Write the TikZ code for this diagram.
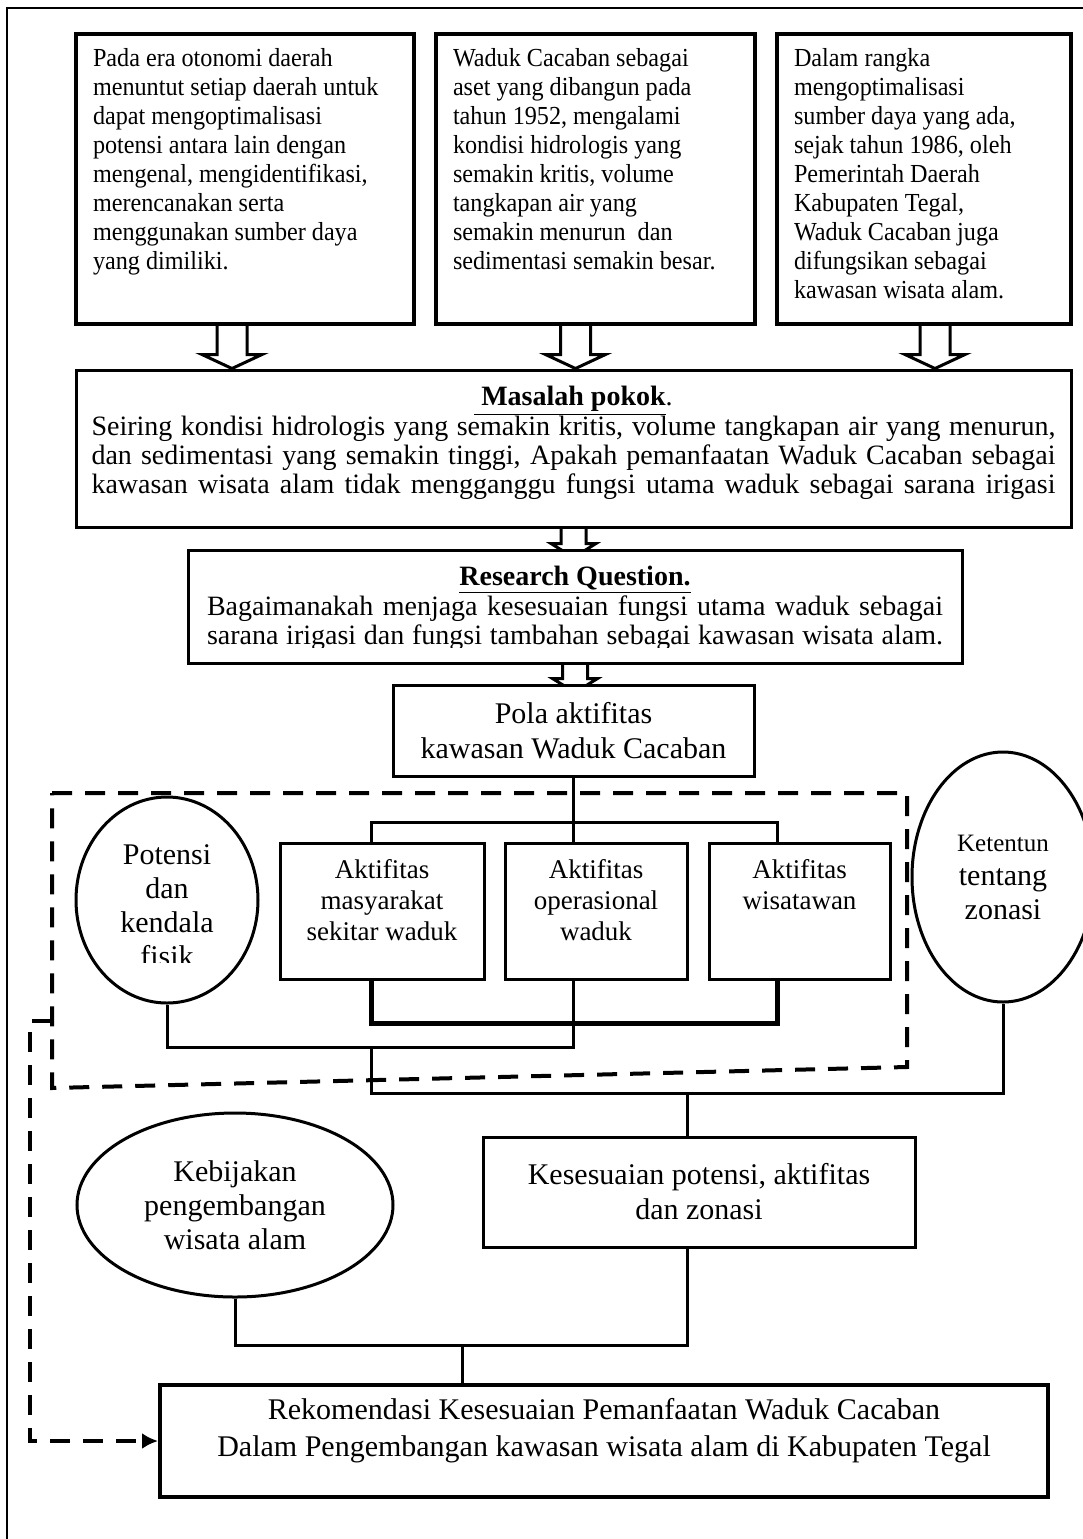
\documentclass[tikz,border=0pt]{standalone}
\usepackage{fontspec}
\setmainfont{Liberation Serif}
\newfontfamily\sempit[FakeStretch=0.93]{Liberation Serif}
\usetikzlibrary{shapes.geometric,arrows.meta,calc}

\pgfdeclarelayer{bg}
\pgfsetlayers{bg,main}

\tikzset{
  box/.style={draw, line width=1.5pt, fill=white, inner sep=0pt},
  topbox/.style={box, line width=2pt, minimum height=145pt},
  aktif/.style={box, minimum height=68pt},
  oval/.style={draw, ellipse, line width=1.5pt, fill=white, inner sep=0pt, align=center, font=\fontsize{15}{17}\selectfont},
  line/.style={line width=1.5pt},
  fat/.style={line width=1.5pt, line join=miter},
  dashline/.style={line width=2pt, dash pattern=on 10pt off 6.5pt},
}

\newcommand{\fatarrow}[4]{%
  \draw[fat] let \p1=(#1), \p2=(#2) in
    (\x1-#3,\y1) -- (\x1-#3,\y2+7pt) -- (\x1-#4,\y2+7pt) -- (\x1,\y2)
    -- (\x1+#4,\y2+7pt) -- (\x1+#3,\y2+7pt) -- (\x1+#3,\y1);}
\newcommand{\kecil}{\sempit\fontsize{13}{14.5}\selectfont}
\newcommand{\sedang}{\fontsize{14}{14.5}\selectfont}
\newcommand{\aktiffont}{\fontsize{13.5}{15.5}\selectfont}

\begin{document}
\begin{tikzpicture}[x=0.5pt,y=-0.5pt]
  \useasboundingbox (0,0) rectangle (1083,1539);

  % top boxes
  \node[topbox, minimum width=169pt] (otonomi) at (245,179)
    {\parbox[c][145pt][t]{152pt}{\kecil\raggedright\vspace*{7pt}%
      Pada era otonomi daerah\\ menuntut setiap daerah untuk\\ dapat mengoptimalisasi\\
      potensi antara lain dengan\\ mengenal, mengidentifikasi,\\ merencanakan serta\\
      menggunakan sumber daya\\ yang dimiliki.}};
  \node[topbox, minimum width=159.5pt] (cacaban) at (595.5,179)
    {\parbox[c][145pt][t]{142.5pt}{\kecil\raggedright\vspace*{7pt}%
      Waduk Cacaban sebagai\\ aset yang dibangun pada\\ tahun 1952, mengalami\\
      kondisi hidrologis yang\\ semakin kritis, volume\\ tangkapan air yang\\
      semakin menurun~ dan\\ sedimentasi semakin besar.}};
  \node[topbox, minimum width=147pt] (rangka) at (924,179)
    {\parbox[c][145pt][t]{130pt}{\kecil\raggedright\vspace*{7pt}%
      Dalam rangka\\ mengoptimalisasi\\ sumber daya yang ada,\\ sejak tahun 1986, oleh\\
      Pemerintah Daerah\\ Kabupaten Tegal,\\ Waduk Cacaban juga\\ difungsikan sebagai\\
      kawasan wisata alam.}};

  % masalah pokok
  \node[box, minimum width=497.5pt, minimum height=78.5pt] (masalah) at (573.5,448.5)
    {\parbox[c][78.5pt][t]{482pt}{\sedang\vspace*{8pt}%
      \centerline{\underline{\textbf{\ Masalah pokok}}.}\vspace{-0.5pt}%
      \makebox[\linewidth][s]{Seiring kondisi hidrologis yang semakin kritis, volume tangkapan air yang menurun,}\par
      \makebox[\linewidth][s]{dan sedimentasi yang semakin tinggi, Apakah pemanfaatan Waduk Cacaban sebagai}\par
      \makebox[\linewidth][s]{kawasan wisata alam tidak mengganggu fungsi utama waduk sebagai sarana irigasi}}};

  % research question
  \node[box, minimum width=387pt, minimum height=56.5pt] (rq) at (575,606.5) {};
  \begin{scope}
    \clip (190,552) rectangle (960,647);
    \node[inner sep=0pt] (rqteks) at (rq.center)
      {\parbox[c][56.5pt][t]{368pt}{\sedang\vspace*{8pt}%
        \centerline{\underline{\textbf{Research Question.}}}\vspace{0.5pt}%
        \makebox[\linewidth][s]{Bagaimanakah menjaga kesesuaian fungsi utama waduk sebagai}\par
        \makebox[\linewidth][s]{sarana irigasi dan fungsi tambahan sebagai kawasan wisata alam.}}};
  \end{scope}

  % pola aktifitas
  \node[box, minimum width=180.5pt, minimum height=45.5pt, align=center,
    font=\fontsize{15}{17.5}\selectfont] (pola) at (573.5,730.5) {Pola aktifitas\\kawasan Waduk Cacaban};

  % dashed area
  \draw[dashline] (52,793) -- (907,793) -- (907,1067) -- (52,1088) -- cycle;
  \coordinate (kotakkiri) at (52,1021);

  % potensi
  \node[oval, minimum width=91pt, minimum height=103pt] (potensi) at (167,900) {};
  \begin{scope}
    \clip (80,800) rectangle (255,962);
    \node[inner sep=0pt, align=center, font=\fontsize{15}{17}\selectfont] (potensiteks) at (167,906)
      {Potensi\\dan\\kendala\\fisik};
  \end{scope}

  % aktifitas
  \node[aktif, minimum width=102pt] (masyarakat) at (382,911)
    {\parbox[c][68pt][t]{95pt}{\centering\aktiffont\vspace*{8pt}Aktifitas\\masyarakat\\sekitar waduk}};
  \node[aktif, minimum width=91pt] (operasional) at (596,911)
    {\parbox[c][68pt][t]{85pt}{\centering\aktiffont\vspace*{8pt}Aktifitas\\operasional\\waduk}};
  \node[aktif, minimum width=90.5pt] (wisatawan) at (799.5,911)
    {\parbox[c][68pt][t]{85pt}{\centering\aktiffont\vspace*{8pt}Aktifitas\\wisatawan}};

  % zonasi
  \node[oval, minimum width=91pt, minimum height=125pt] (zonasi) at (1003,877)
    {{\fontsize{12.5}{15}\selectfont Ketentun}\\tentang\\zonasi};

  % kesesuaian, kebijakan, rekomendasi
  \node[box, minimum width=216pt, minimum height=55pt, align=center,
    font=\fontsize{15}{17.5}\selectfont] (kesesuaian) at (699,1192) {Kesesuaian potensi, aktifitas\\dan zonasi};
  \node[oval, minimum width=158pt, minimum height=92pt] (kebijakan) at (235,1205)
    {Kebijakan\\pengembangan\\wisata alam};
  \node[box, line width=2pt, minimum width=444pt, minimum height=56pt] (rekomendasi) at (604,1441)
    {\parbox[c][56pt][t]{440pt}{\centering\fontsize{15}{18.5}\selectfont\vspace*{6.5pt}%
      Rekomendasi Kesesuaian Pemanfaatan Waduk Cacaban\\
      Dalam Pengembangan kawasan wisata alam di Kabupaten Tegal}};

  % connectors
  \coordinate (kiri) at (371,822);
  \coordinate (kanan) at (777,822);
  \coordinate (bawah) at (0,1023);
  \coordinate (fisik) at (0,1047);
  \coordinate (zona) at (0,1093);
  \coordinate (akhir) at (462,1345);
  \coordinate (kesatas) at ([xshift=-6pt]kesesuaian.north);
  \coordinate (kesbawah) at ([xshift=-6pt]kesesuaian.south);
  \coordinate (belok) at (30,1021);

  \draw[line] (pola.south) -- (pola.south |- operasional.north);
  \draw[line] (masyarakat.north -| kiri) -- (kiri) -- (kanan) -- (wisatawan.north -| kanan);
  \draw[line, line width=2.5pt] (masyarakat.south -| kiri) -- (kiri |- bawah) -- (kanan |- bawah) -- (wisatawan.south -| kanan);
  \draw[line] (operasional.south -| pola.south) -- (pola.south |- fisik) -- (potensi.south |- fisik) -- (potensi.south);
  \draw[line] (kiri |- fisik) -- (kiri |- zona) -- (zonasi.south |- zona) -- (zonasi.south);
  \draw[line] (kesatas) -- (kesatas |- zona);
  \draw[line] (kebijakan.south) -- (kebijakan.south |- akhir) -- (kesbawah |- akhir) -- (kesbawah);
  \draw[line] (akhir) -- (akhir |- rekomendasi.north);
  \draw[dashline, -{Latex[length=8pt,width=8pt]}] (kotakkiri) -- (belok) |- (rekomendasi.west);

  \begin{pgfonlayer}{bg}
    % frame
    \draw[line width=1pt] (7,8) rectangle (1095,1550);
    % hollow arrows
    \fatarrow{[xshift=-6.5pt]otonomi.south}{masalah.north}{7.5pt}{15pt}
    \fatarrow{[xshift=-10pt]cacaban.south}{masalah.north}{7.5pt}{15pt}
    \fatarrow{[xshift=5.5pt]rangka.south}{masalah.north}{7.5pt}{15pt}
    \fatarrow{masalah.south}{[yshift=-4.5pt]rq.north}{6.25pt}{11.25pt}
    \fatarrow{rq.south}{[yshift=-4.5pt]pola.north}{6.25pt}{11.25pt}
  \end{pgfonlayer}
\end{tikzpicture}
\end{document}
